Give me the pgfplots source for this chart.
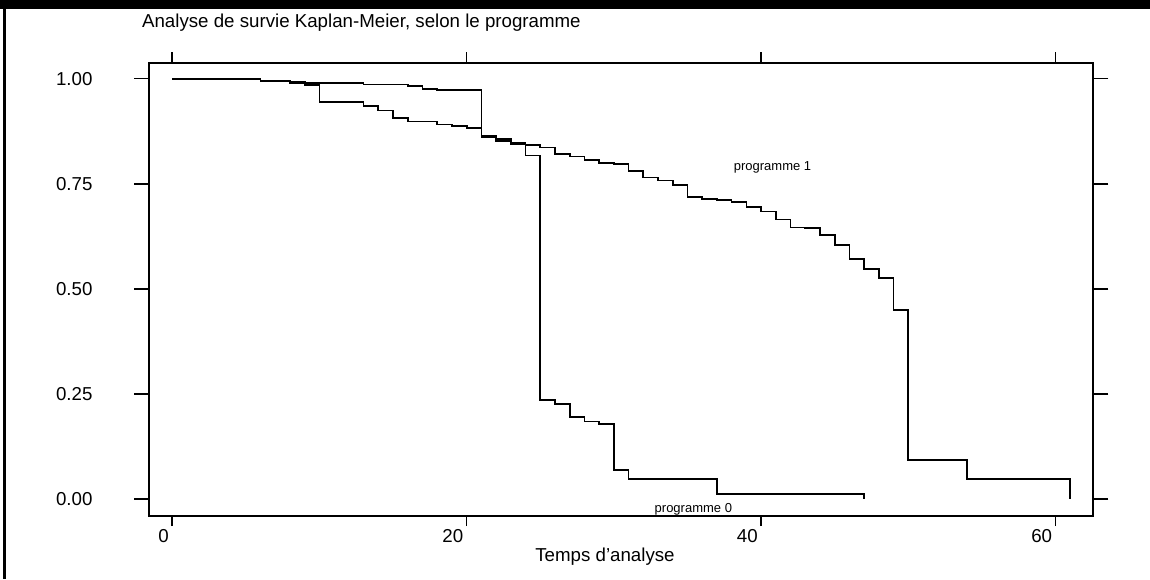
\documentclass[border=0pt]{standalone}
\usepackage{fontspec}
\setmainfont{Liberation Sans}
\usepackage{pgfplots}
\usepackage{pgfplotstable}
\pgfplotsset{compat=1.18}

% Kaplan-Meier step data
\pgfplotstableread{
t     s
0     1.000
2     0.999
6     0.996
8     0.992
9     0.990
10    0.989
13    0.986
16    0.983
17    0.976
18    0.973
21    0.860
22    0.852
23    0.845
24    0.817
25    0.236
26    0.225
27    0.195
28    0.184
29    0.178
30    0.069
31    0.048
37    0.012
47    0.012
47    0.000
}\progzero

\pgfplotstableread{
t     s
0     1.000
6     0.995
8     0.990
9     0.985
10    0.944
13    0.935
14    0.924
15    0.906
16    0.898
18    0.891
19    0.887
20    0.883
21    0.864
22    0.856
23    0.848
24    0.842
25    0.836
26    0.821
27    0.815
28    0.807
29    0.799
30    0.797
31    0.780
32    0.765
33    0.758
34    0.747
35    0.719
36    0.714
37    0.711
38    0.707
39    0.695
40    0.684
41    0.665
42    0.646
43    0.645
44    0.628
45    0.604
46    0.571
47    0.547
48    0.525
49    0.450
50    0.093
54    0.047
61    0.047
61    0.000
}\progone

\begin{document}
\begin{tikzpicture}
\useasboundingbox (-74.65pt,-31.65pt) rectangle (500.35pt,257.85pt);
\fill[white] (-74.65pt,-31.65pt) rectangle (500.35pt,257.85pt);
\fill[black] (-74.65pt,253.35pt) rectangle (500.35pt,257.85pt);
\fill[black] (-72.9pt,-31.65pt) rectangle (-71.4pt,257.85pt);

% x ticks (shorter than the y ticks)
\begin{axis}[
    scale only axis, width=472pt, height=226.5pt,
    at={(0pt,0pt)}, anchor=south west,
    xmin=-1.56, xmax=62.57, ymin=-0.040, ymax=1.038,
    axis line style={draw=none},
    xtick={0,20,40,60}, ytick=\empty, xticklabels={},
    tick align=outside, xtick pos=both,
    major tick length=5.25pt,
    xtick style={black, line width=0.8pt},
]
\end{axis}

\begin{axis}[
    scale only axis, width=472pt, height=226.5pt,
    at={(0pt,0pt)}, anchor=south west,
    xmin=-1.56, xmax=62.57, ymin=-0.040, ymax=1.038,
    clip=false,
    axis line style={line width=0.9pt},
    xtick={0,20,40,60}, ytick={0,0.25,0.5,0.75,1},
    tick align=outside, ytick pos=both, xtick pos=both,
    xticklabel pos=lower, yticklabel pos=left,
    major tick length=7.5pt,
    xtick style={draw=none},
    ytick style={black, line width=0.8pt},
    /pgf/number format/assume math mode=true,
    yticklabel style={/pgf/number format/fixed, /pgf/number format/fixed zerofill,
        /pgf/number format/precision=2, anchor=east, xshift=-17.4pt},
    tick label style={font=\fontsize{9.35}{11}\selectfont},
    xticklabel style={anchor=north east, inner xsep=1.5pt, yshift=3.95pt},
]
\addplot[const plot, black, line width=0.85pt, no marks] table[x=t, y=s] {\progzero};
\addplot[const plot, black, line width=0.85pt, no marks] table[x=t, y=s] {\progone};
\node[font=\fontsize{6.5}{8}\selectfont] at (axis cs:40.78,0.79) {programme 1};
\node[font=\fontsize{6.5}{8}\selectfont] at (axis cs:35.4,-0.024) {programme 0};
\end{axis}

\node[anchor=base west, inner sep=0pt, font=\fontsize{9.35}{11}\selectfont]
    at (-3.8pt,243.85pt) {Analyse de survie Kaplan-Meier, selon le programme};
\node[anchor=base, inner sep=0pt, font=\fontsize{9.35}{11}\selectfont]
    at (227.85pt,-23pt) {Temps d’analyse};
\end{tikzpicture}
\end{document}
